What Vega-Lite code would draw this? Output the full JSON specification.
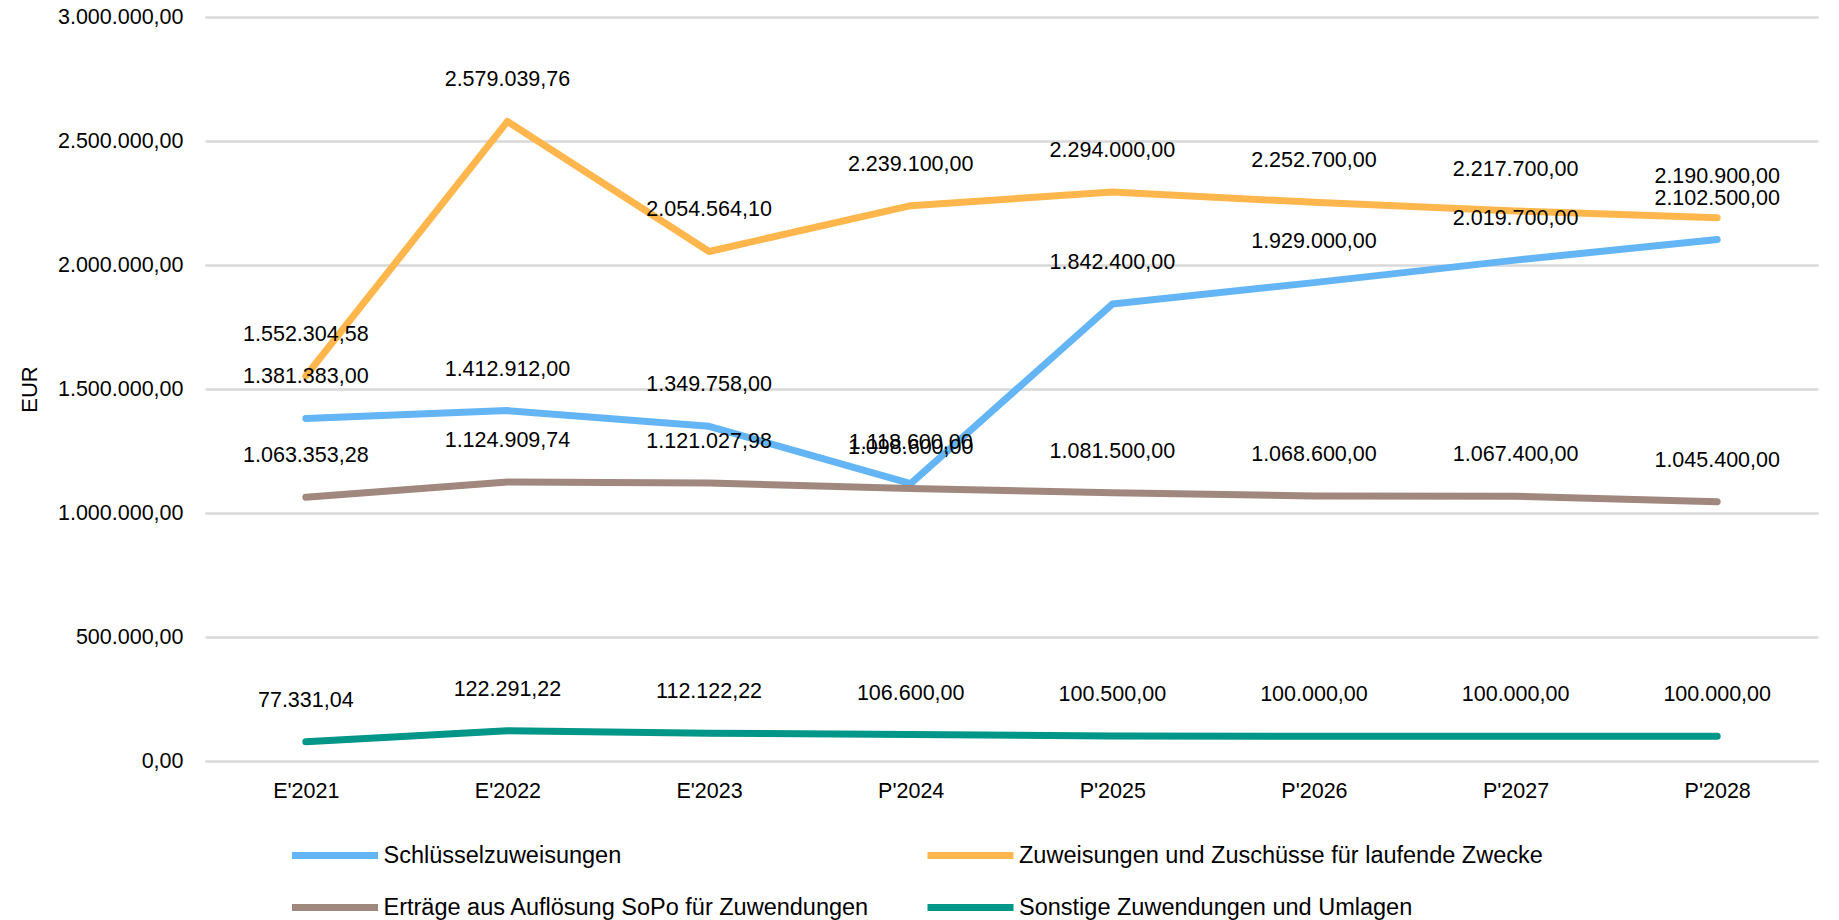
{
  "$schema": "https://vega.github.io/schema/vega-lite/v6.json",
  "autosize": {"type": "none"},
  "width": 1613,
  "height": 744,
  "padding": {"left": 205, "top": 17, "right": 21, "bottom": 159},
  "background": "white",
  "config": {
    "locale": {"number": {"decimal": ",", "thousands": ".", "grouping": [3], "currency": ["", " €"]}},
    "font": "Liberation Sans",
    "view": {"stroke": null},
    "axis": {"labelColor": "#000000", "titleColor": "#000000", "labelFont": "Liberation Sans", "titleFont": "Liberation Sans"}
  },
  "data": {
    "values": [
      {"jahr": "E'2021", "reihe": "Schlüsselzuweisungen", "wert": 1381383.00},
      {"jahr": "E'2022", "reihe": "Schlüsselzuweisungen", "wert": 1412912.00},
      {"jahr": "E'2023", "reihe": "Schlüsselzuweisungen", "wert": 1349758.00},
      {"jahr": "P'2024", "reihe": "Schlüsselzuweisungen", "wert": 1118600.00},
      {"jahr": "P'2025", "reihe": "Schlüsselzuweisungen", "wert": 1842400.00},
      {"jahr": "P'2026", "reihe": "Schlüsselzuweisungen", "wert": 1929000.00},
      {"jahr": "P'2027", "reihe": "Schlüsselzuweisungen", "wert": 2019700.00},
      {"jahr": "P'2028", "reihe": "Schlüsselzuweisungen", "wert": 2102500.00},
      {"jahr": "E'2021", "reihe": "Zuweisungen und Zuschüsse für laufende Zwecke", "wert": 1552304.58},
      {"jahr": "E'2022", "reihe": "Zuweisungen und Zuschüsse für laufende Zwecke", "wert": 2579039.76},
      {"jahr": "E'2023", "reihe": "Zuweisungen und Zuschüsse für laufende Zwecke", "wert": 2054564.10},
      {"jahr": "P'2024", "reihe": "Zuweisungen und Zuschüsse für laufende Zwecke", "wert": 2239100.00},
      {"jahr": "P'2025", "reihe": "Zuweisungen und Zuschüsse für laufende Zwecke", "wert": 2294000.00},
      {"jahr": "P'2026", "reihe": "Zuweisungen und Zuschüsse für laufende Zwecke", "wert": 2252700.00},
      {"jahr": "P'2027", "reihe": "Zuweisungen und Zuschüsse für laufende Zwecke", "wert": 2217700.00},
      {"jahr": "P'2028", "reihe": "Zuweisungen und Zuschüsse für laufende Zwecke", "wert": 2190900.00},
      {"jahr": "E'2021", "reihe": "Erträge aus Auflösung SoPo für Zuwendungen", "wert": 1063353.28},
      {"jahr": "E'2022", "reihe": "Erträge aus Auflösung SoPo für Zuwendungen", "wert": 1124909.74},
      {"jahr": "E'2023", "reihe": "Erträge aus Auflösung SoPo für Zuwendungen", "wert": 1121027.98},
      {"jahr": "P'2024", "reihe": "Erträge aus Auflösung SoPo für Zuwendungen", "wert": 1098600.00},
      {"jahr": "P'2025", "reihe": "Erträge aus Auflösung SoPo für Zuwendungen", "wert": 1081500.00},
      {"jahr": "P'2026", "reihe": "Erträge aus Auflösung SoPo für Zuwendungen", "wert": 1068600.00},
      {"jahr": "P'2027", "reihe": "Erträge aus Auflösung SoPo für Zuwendungen", "wert": 1067400.00},
      {"jahr": "P'2028", "reihe": "Erträge aus Auflösung SoPo für Zuwendungen", "wert": 1045400.00},
      {"jahr": "E'2021", "reihe": "Sonstige Zuwendungen und Umlagen", "wert": 77331.04},
      {"jahr": "E'2022", "reihe": "Sonstige Zuwendungen und Umlagen", "wert": 122291.22},
      {"jahr": "E'2023", "reihe": "Sonstige Zuwendungen und Umlagen", "wert": 112122.22},
      {"jahr": "P'2024", "reihe": "Sonstige Zuwendungen und Umlagen", "wert": 106600.00},
      {"jahr": "P'2025", "reihe": "Sonstige Zuwendungen und Umlagen", "wert": 100500.00},
      {"jahr": "P'2026", "reihe": "Sonstige Zuwendungen und Umlagen", "wert": 100000.00},
      {"jahr": "P'2027", "reihe": "Sonstige Zuwendungen und Umlagen", "wert": 100000.00},
      {"jahr": "P'2028", "reihe": "Sonstige Zuwendungen und Umlagen", "wert": 100000.00}
    ]
  },
  "encoding": {
    "x": {
      "field": "jahr", "type": "ordinal",
      "scale": {"type": "point", "padding": 0.5},
      "axis": {"title": null, "labelAngle": 0, "labelFontSize": 21.5, "labelPadding": 19, "ticks": false, "tickSize": 0, "domain": false, "grid": false}
    },
    "y": {
      "field": "wert", "type": "quantitative",
      "scale": {"domain": [0, 3000000], "nice": false},
      "axis": {
        "title": "EUR", "titleFontSize": 22, "titleFontWeight": "normal", "titlePadding": 16,
        "values": [0, 500000, 1000000, 1500000, 2000000, 2500000, 3000000],
        "format": ",.2f", "labelFontSize": 21.5, "labelPadding": 22,
        "ticks": false, "tickSize": 0, "domain": false,
        "grid": true, "gridColor": "#d9d9d9", "gridWidth": 2.5
      }
    }
  },
  "layer": [
    {
      "mark": {"type": "line", "strokeWidth": 7, "strokeCap": "round", "strokeJoin": "round"},
      "encoding": {
        "color": {
          "field": "reihe", "type": "nominal",
          "scale": {
            "domain": ["Schlüsselzuweisungen", "Zuweisungen und Zuschüsse für laufende Zwecke", "Erträge aus Auflösung SoPo für Zuwendungen", "Sonstige Zuwendungen und Umlagen"],
            "range": ["#64B5F6", "#FFB74D", "#A1887F", "#009688"]
          },
          "legend": {
            "title": null, "orient": "none", "legendX": 83.5, "legendY": 823.5,
            "direction": "horizontal", "columns": 2, "columnPadding": 54.5, "rowPadding": 22,
            "clipHeight": 30,
            "symbolType": "stroke", "symbolSize": 7396, "symbolStrokeWidth": 7,
            "labelFontSize": 23.5, "labelColor": "#000000", "labelOffset": 2, "labelLimit": 1000,
            "labelFont": "Liberation Sans"
          }
        }
      }
    },
    {
      "mark": {"type": "text", "dy": -41, "baseline": "middle", "align": "center", "fontSize": 21.5, "color": "#000000"},
      "encoding": {
        "text": {"field": "wert", "type": "quantitative", "format": ",.2f"},
        "detail": {"field": "reihe"}
      }
    }
  ]
}
